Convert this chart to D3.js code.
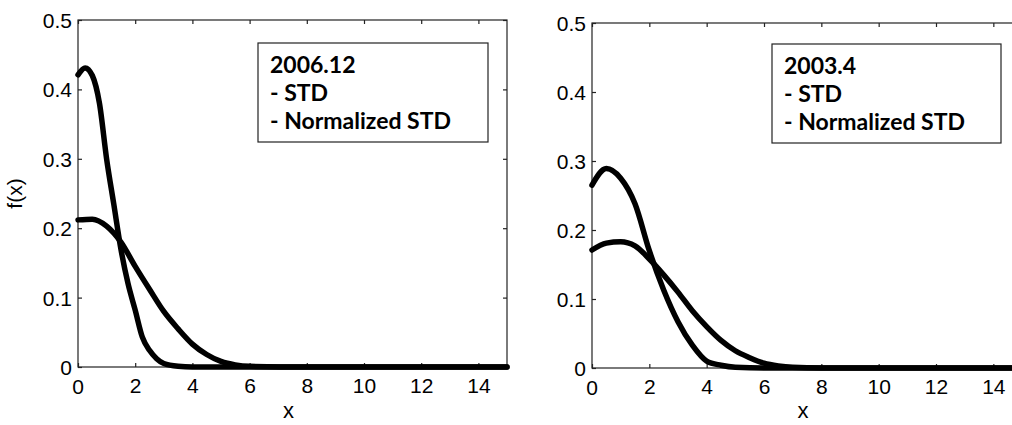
<!DOCTYPE html>
<html>
<head>
<meta charset="utf-8">
<script src="https://cdn.jsdelivr.net/npm/d3@7"></script>
<style>
  body { margin: 0; background: #fff; }
  svg { display: block; }
  .axis text { font-family: "Liberation Sans", Arial, sans-serif; font-size: 21px; fill: #000; }
  .axis path, .axis line { stroke: #222; stroke-width: 1.2; }
  .legend text { font-family: Lato, sans-serif; font-weight: bold; font-size: 23px; fill: #000; }
</style>
</head>
<body>
<div id="chart"></div>
<script>
// left panel (2006.12)
const left_std_x = [0, 0.25, 0.5, 0.75, 1.0, 1.25, 1.5, 1.75, 2.0, 2.25, 2.5, 2.75, 3.0, 3.5, 4, 6, 8, 10, 12, 14, 15];
const left_std_y = [0.421, 0.431, 0.42, 0.38, 0.30, 0.235, 0.17, 0.12, 0.082, 0.043, 0.024, 0.012, 0.005, 0.001, 0, 0, 0, 0, 0, 0, 0];
const left_norm_x = [0, 0.5, 1, 1.5, 2, 2.5, 3, 3.5, 4, 4.5, 5, 5.5, 6, 8, 10, 12, 14, 15];
const left_norm_y = [0.212, 0.213, 0.203, 0.18, 0.145, 0.112, 0.08, 0.055, 0.033, 0.018, 0.008, 0.003, 0.001, 0, 0, 0, 0, 0];

// right panel (2003.4)
const right_std_x = [0, 0.5, 1, 1.5, 2, 2.5, 3, 3.5, 4, 4.5, 5, 6, 8, 10, 12, 14, 15];
const right_std_y = [0.265, 0.289, 0.275, 0.238, 0.17, 0.113, 0.067, 0.033, 0.01, 0.004, 0.001, 0, 0, 0, 0, 0, 0];
const right_norm_x = [0, 0.5, 1, 1.5, 2, 2.5, 3, 3.5, 4, 4.5, 5, 5.5, 6, 6.5, 7, 8, 10, 12, 14, 15];
const right_norm_y = [0.171, 0.181, 0.183, 0.177, 0.158, 0.135, 0.11, 0.083, 0.06, 0.04, 0.025, 0.015, 0.007, 0.003, 0.001, 0, 0, 0, 0, 0];

const x_ticks = [0, 2, 4, 6, 8, 10, 12, 14];
const y_ticks = [0, 0.1, 0.2, 0.3, 0.4, 0.5];
const legend_lines_left = ["2006.12", "- STD", "- Normalized STD"];
const legend_lines_right = ["2003.4", "- STD", "- Normalized STD"];

const W = 1012, H = 425;
const svg = d3.select("#chart").append("svg").attr("width", W).attr("height", H);

function drawPanel(opts) {
  const x = d3.scaleLinear().domain([0, 15]).range([opts.left, opts.right]);
  const y = d3.scaleLinear().domain([0, 0.5]).range([opts.bottom, opts.top]);
  const g = svg.append("g");

  const clipId = "clip" + opts.id;
  g.append("clipPath").attr("id", clipId)
    .append("rect").attr("x", opts.left - 4).attr("y", opts.top - 4)
      .attr("width", opts.right - opts.left + 8).attr("height", opts.bottom - opts.top + 8);

  // frame
  g.append("rect").attr("x", opts.left).attr("y", opts.top)
    .attr("width", opts.right - opts.left).attr("height", opts.bottom - opts.top)
    .attr("fill", "none").attr("stroke", "#222").attr("stroke-width", 1.2);

  const xb = g.append("g").attr("class", "axis").attr("transform", `translate(0,${opts.bottom})`)
    .call(d3.axisBottom(x).tickValues(x_ticks).tickSize(-4).tickPadding(10).tickFormat(d => d === 0 ? "" : d));
  xb.select(".domain").remove();
  xb.selectAll("text").attr("dy", "0.75em");
  g.append("g").attr("class", "axis").attr("transform", `translate(0,${opts.top})`)
    .call(d3.axisTop(x).tickValues(x_ticks).tickSize(-4).tickFormat(""))
    .select(".domain").remove();

  const yl = g.append("g").attr("class", "axis").attr("transform", `translate(${opts.left},0)`)
    .call(d3.axisLeft(y).tickValues(y_ticks).tickSize(-4).tickPadding(6).tickFormat(d3.format("")));
  yl.select(".domain").remove();
  yl.selectAll("text").attr("dy", "0.36em");
  g.append("g").attr("class", "axis").attr("transform", `translate(${opts.right},0)`)
    .call(d3.axisRight(y).tickValues(y_ticks).tickSize(-4).tickFormat(""))
    .select(".domain").remove();

  // matlab-style origin label for x = 0
  g.append("text")
    .attr("x", x(0)).attr("y", opts.bottom + 27)
    .attr("text-anchor", "middle")
    .style("font-family", "Liberation Sans, Arial, sans-serif").style("font-size", "21px")
    .text("0");

  const line = d3.line().x(d => x(d[0])).y(d => y(d[1])).curve(d3.curveMonotoneX);
  const plot = g.append("g").attr("clip-path", `url(#${clipId})`);
  [[opts.stdX, opts.stdY], [opts.normX, opts.normY]].forEach(([xs, ys]) => {
    plot.append("path")
      .datum(xs.map((v, i) => [v, ys[i]]))
      .attr("d", line)
      .attr("fill", "none").attr("stroke", "#000")
      .attr("stroke-width", 5.5).attr("stroke-linecap", "round").attr("stroke-linejoin", "round");
  });

  // legend box
  const lg = g.append("g").attr("class", "legend");
  lg.append("rect").attr("x", opts.legX).attr("y", opts.legY)
    .attr("width", opts.legW).attr("height", 99)
    .attr("fill", "#fff").attr("stroke", "#222").attr("stroke-width", 1.2);
  opts.legend.forEach((t, i) => {
    lg.append("text").attr("x", opts.legX + 12).attr("y", opts.legY + 30 + i * 28).text(t);
  });

  // axis labels
  g.append("text")
    .attr("x", (opts.left + x(15)) / 2 - 4).attr("y", 418)
    .attr("text-anchor", "middle")
    .style("font-family", "Liberation Sans, Arial, sans-serif").style("font-size", "22px")
    .text("x");
  if (opts.ylabel) {
    g.append("text")
      .attr("transform", `translate(22,${(opts.top + opts.bottom) / 2}) rotate(-90)`)
      .attr("text-anchor", "middle")
      .style("font-family", "Liberation Sans, Arial, sans-serif").style("font-size", "21px")
      .text(opts.ylabel);
  }
}

drawPanel({
  id: "L", left: 78, right: 507, top: 20, bottom: 367,
  stdX: left_std_x, stdY: left_std_y, normX: left_norm_x, normY: left_norm_y,
  legend: legend_lines_left, legX: 258, legY: 43, legW: 230, ylabel: "f(x)"
});
drawPanel({
  id: "R", left: 592, right: 1022, top: 23, bottom: 368,
  stdX: right_std_x, stdY: right_std_y, normX: right_norm_x, normY: right_norm_y,
  legend: legend_lines_right, legX: 772, legY: 44, legW: 229
});
</script>
</body>
</html>
